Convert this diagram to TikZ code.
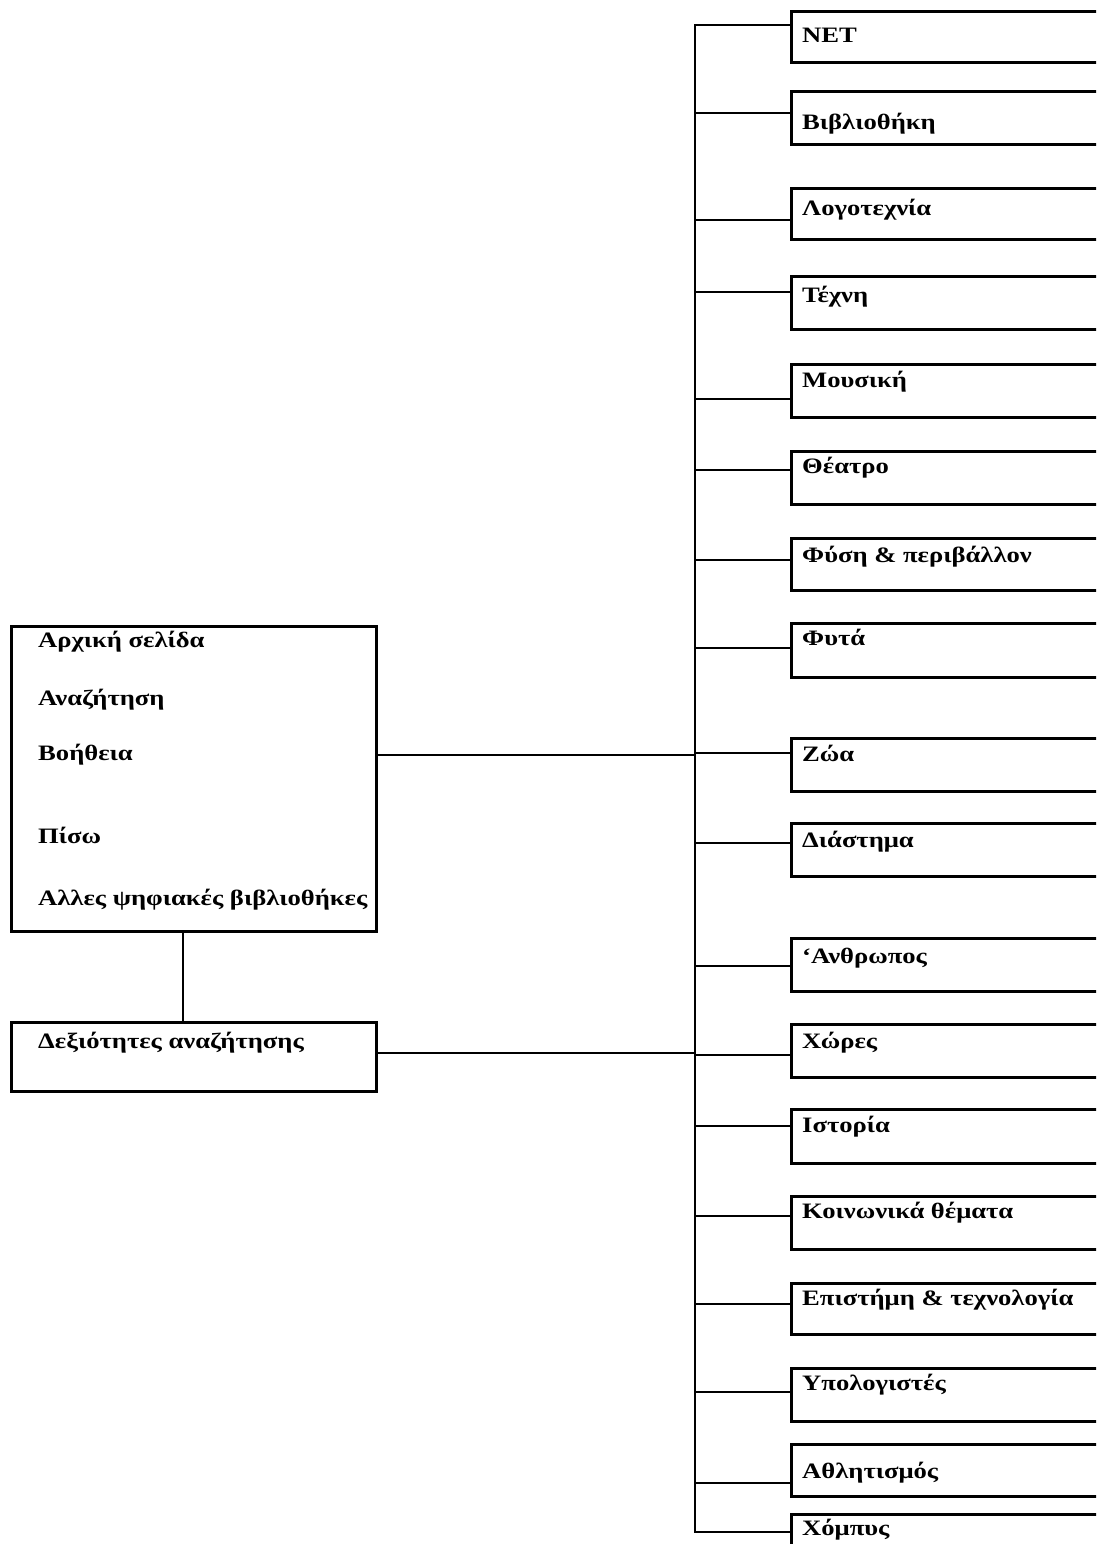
\documentclass[tikz,border=0pt]{standalone}
\usepackage{fontspec}
\setmainfont{Liberation Serif}
\newfontfamily\widefont[FakeStretch=1.21]{Liberation Serif}
\begin{document}
\begin{tikzpicture}[x=1pt,y=-1pt,
  ln/.style={line width=2.8pt,line cap=rect},
  catbox/.style={draw,line width=2.8pt,anchor=north west,inner sep=0pt,minimum width=340pt},
  cattext/.style={anchor=base west,inner sep=0pt,font=\widefont\fontsize{22}{26}\selectfont\bfseries},
  menutext/.style={cattext}]
\useasboundingbox (0,0) rectangle (1096,1544);
\clip (0,0) rectangle (1096,1544);
\fill[white] (0,0) rectangle (1096,1544);
% left boxes
\node[draw,line width=2.8pt,anchor=north west,inner sep=0pt,minimum width=365pt,minimum height=305pt] (menu) at (10,625) {};
\node[draw,line width=2.8pt,anchor=north west,inner sep=0pt,minimum width=365pt,minimum height=69pt] (skills) at (10,1021) {};
\node[menutext] (m1) at (38,647) {Αρχική σελίδα};
\node[menutext] (m2) at (38,705) {Αναζήτηση};
\node[menutext] (m3) at (38,760) {Βοήθεια};
\node[menutext] (m4) at (38,843) {Πίσω};
\node[menutext] (m5) at (38,905) {Αλλες ψηφιακές βιβλιοθήκες};
\node[cattext] (s1) at (38,1048) {Δεξιότητες αναζήτησης};
% bus
\coordinate (bt) at (695,25);
\coordinate (bb) at (695,1532);
\draw[ln] (bt) -- (bb);
\draw[ln] (menu.east |- 0,755) -- (bt |- 0,755);
\draw[ln] (skills.east |- 0,1053) -- (bt |- 0,1053);
\draw[ln] (menu.south -| 183,0) -- (skills.north -| 183,0);
% categories: top, height, branch y, baseline, text
\foreach \n/\t/\h/\b/\s/\txt in {
  c1/10/51/25/43/NET,
  c2/90/53/113/130/Βιβλιοθήκη,
  c3/187/51/220/215/Λογοτεχνία,
  c4/275/53/292/302/Τέχνη,
  c5/363/53/399/387/Μουσική,
  c6/450/53/470/473/Θέατρο,
  c7/537/52/560/562/Φύση \& περιβάλλον,
  c8/622/54/648/645/Φυτά,
  c9/737/53/753/761/Ζώα,
  c10/822/53/843/847/Διάστημα,
  c11/937/53/966/963/‘Ανθρωπος,
  c12/1023/53/1055/1048/Χώρες,
  c13/1108/54/1126/1132/Ιστορία,
  c14/1195/53/1216/1218/Κοινωνικά θέματα,
  c15/1282/51/1304/1305/Επιστήμη \& τεχνολογία,
  c16/1367/53/1392/1390/Υπολογιστές,
  c17/1443/52/1483/1478/Αθλητισμός,
  c18/1513/60/1532/1535/Χόμπυς}{
  \node[catbox,minimum height=\h pt] (\n) at (790,\t) {};
  \node[cattext] (\n t) at (802,\s) {\txt};
  \draw[ln] (bt |- 0,\b) -- (\n.west |- 0,\b);
}
\end{tikzpicture}
\end{document}
